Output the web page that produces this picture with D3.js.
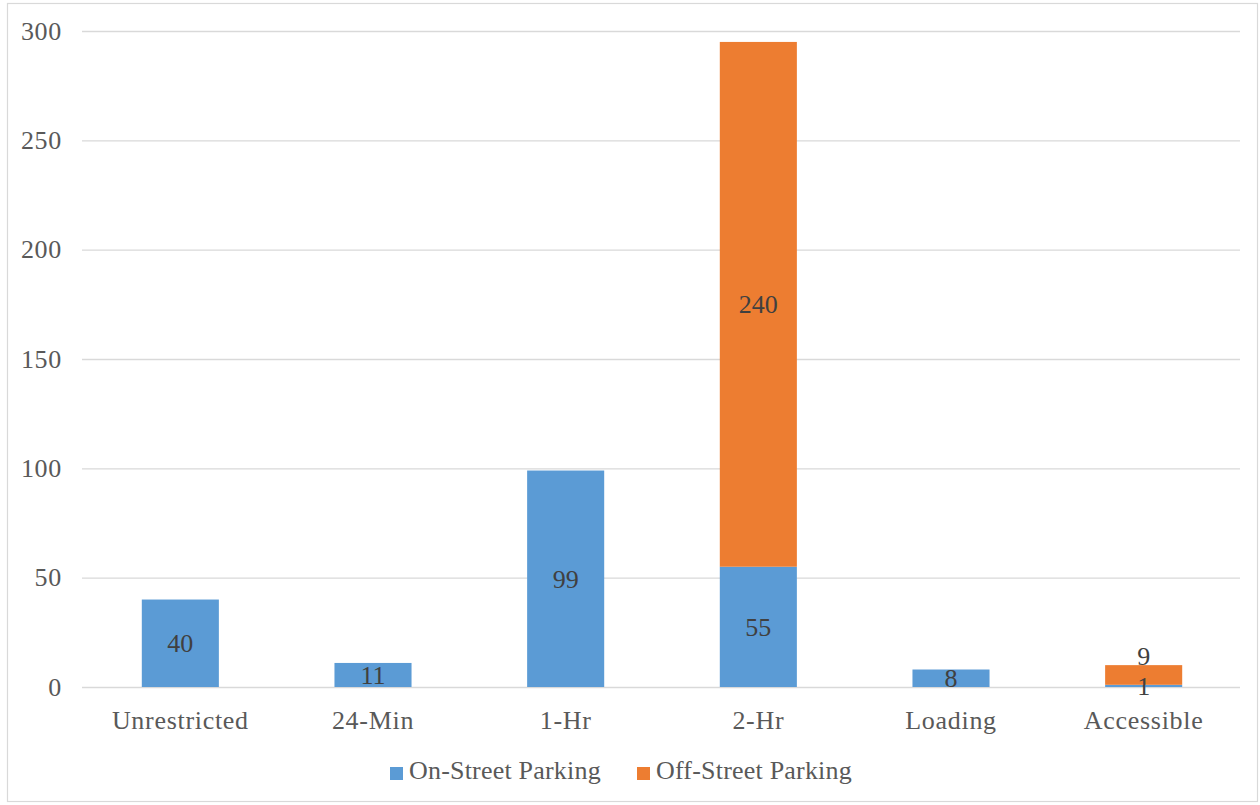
<!DOCTYPE html>
<html>
<head>
<meta charset="utf-8">
<script src="https://cdn.jsdelivr.net/npm/d3@7"></script>
<style>
  html, body { margin: 0; padding: 0; background: #fff; }
  svg { display: block; }
  text { font-family: "Liberation Serif", "Times New Roman", serif; }
</style>
</head>
<body>
<svg id="chart" width="1260" height="805"></svg>
<script>
// Parking spaces by restriction type
const categories = ["Unrestricted", "24-Min", "1-Hr", "2-Hr", "Loading", "Accessible"];
const onStreet  = [40, 11, 99, 55, 8, 1];
const offStreet = [null, null, null, 240, null, 9];
const seriesNames = ["On-Street Parking", "Off-Street Parking"];
const seriesColors = ["#5B9BD5", "#ED7D31"];
const yTicks = [0, 50, 100, 150, 200, 250, 300];

const svg = d3.select("#chart");
const W = 1260, H = 805;
const plot = { left: 84, right: 1240, top: 31, bottom: 687 };
const fontSize = "26px";
const spacing = "0.7px";

// outer frame
svg.append("rect")
  .attr("x", 7.5).attr("y", 3.5)
  .attr("width", W - 10).attr("height", H - 7)
  .attr("fill", "#fff")
  .attr("stroke", "#D9D9D9").attr("stroke-width", 1.2);

const x = d3.scaleBand()
  .domain(categories)
  .range([plot.left, plot.right])
  .paddingInner(0.6)
  .paddingOuter(0.3);

const y = d3.scaleLinear()
  .domain([0, 300])
  .range([plot.bottom, plot.top]);

// gridlines + y tick labels
const yAxis = d3.axisLeft(y)
  .tickValues(yTicks)
  .tickSize(-(plot.right - plot.left + 2))
  .tickPadding(20)
  .tickFormat(d3.format("d"));

const gy = svg.append("g")
  .attr("transform", `translate(${plot.left - 2},0)`)
  .call(yAxis);
gy.select(".domain").remove();
gy.selectAll(".tick line").attr("stroke", "#D9D9D9").attr("stroke-width", 1.3);
gy.selectAll(".tick text")
  .attr("fill", "#595959")
  .style("font-size", fontSize)
  .style("letter-spacing", spacing);

// stacked series
const rows = categories.map((c, i) => ({ cat: c, on: onStreet[i] || 0, off: offStreet[i] || 0 }));
const stack = d3.stack().keys(["on", "off"]);
const layers = stack(rows);

const gBars = svg.append("g");
layers.forEach((layer, li) => {
  gBars.selectAll(null)
    .data(layer.filter(d => d[1] - d[0] > 0))
    .join("rect")
    .attr("x", d => x(d.data.cat))
    .attr("width", x.bandwidth())
    .attr("y", d => y(d[1]))
    .attr("height", d => y(d[0]) - y(d[1]))
    .attr("fill", seriesColors[li]);
});

// value labels, centred in each segment; nudge apart where stacked labels would collide
const labelH = 30;
const gLabels = svg.append("g");
rows.forEach((r, i) => {
  const segs = layers.map(l => l[i]).filter(d => d[1] - d[0] > 0);
  const centres = segs.map(d => (y(d[0]) + y(d[1])) / 2);
  for (let k = 1; k < centres.length; k++) {
    if (centres[k - 1] - centres[k] < labelH) centres[k] = centres[k - 1] - labelH;
  }
  segs.forEach((d, k) => {
    gLabels.append("text")
      .attr("x", x(r.cat) + x.bandwidth() / 2)
      .attr("y", centres[k])
      .attr("dy", "0.35em")
      .attr("text-anchor", "middle")
      .attr("fill", "#404040")
      .style("font-size", fontSize)
      .text(d[1] - d[0]);
  });
});

// category axis labels
const xAxis = d3.axisBottom(x).tickSize(0).tickPadding(0);
const gx = svg.append("g")
  .attr("transform", `translate(0,${plot.bottom})`)
  .call(xAxis);
gx.select(".domain").remove();
gx.selectAll(".tick text")
  .attr("y", 42)
  .attr("dy", 0)
  .attr("fill", "#595959")
  .style("font-size", fontSize)
  .style("letter-spacing", spacing);

// legend
const legendItems = [
  { name: seriesNames[0], color: seriesColors[0], x: 390 },
  { name: seriesNames[1], color: seriesColors[1], x: 637 }
];
const gLeg = svg.append("g");
legendItems.forEach(it => {
  gLeg.append("rect")
    .attr("x", it.x).attr("y", 767)
    .attr("width", 13).attr("height", 13)
    .attr("fill", it.color);
  gLeg.append("text")
    .attr("x", it.x + 19).attr("y", 779)
    .attr("fill", "#595959")
    .style("font-size", fontSize)
    .style("letter-spacing", "0.2px")
    .text(it.name);
});
</script>
</body>
</html>
